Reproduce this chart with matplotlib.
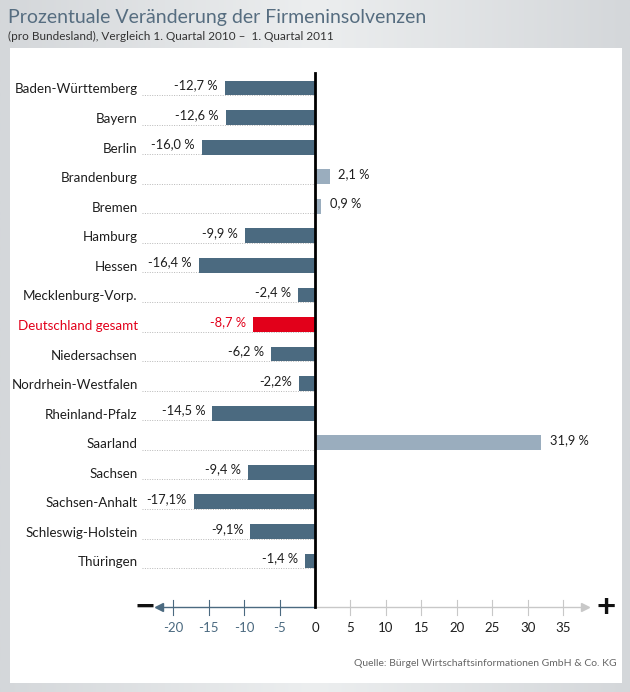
import numpy as np
import matplotlib.pyplot as plt
from matplotlib.patches import Rectangle

plt.rcParams['font.family'] = ['Lato', 'DejaVu Sans']

laender = ['Baden-Württemberg', 'Bayern', 'Berlin', 'Brandenburg', 'Bremen',
           'Hamburg', 'Hessen', 'Mecklenburg-Vorp.', 'Deutschland gesamt',
           'Niedersachsen', 'Nordrhein-Westfalen', 'Rheinland-Pfalz',
           'Saarland', 'Sachsen', 'Sachsen-Anhalt', 'Schleswig-Holstein',
           'Thüringen']
werte = [-12.7, -12.6, -16.0, 2.1, 0.9, -9.9, -16.4, -2.4, -8.7,
         -6.2, -2.2, -14.5, 31.9, -9.4, -17.1, -9.1, -1.4]
wert_labels = ['-12,7 %', '-12,6 %', '-16,0 %', '2,1 %', '0,9 %', '-9,9 %',
               '-16,4 %', '-2,4 %', '-8,7 %', '-6,2 %', '-2,2%', '-14,5 %',
               '31,9 %', '-9,4 %', '-17,1%', '-9,1%', '-1,4 %']
ticks = [-20, -15, -10, -5, 0, 5, 10, 15, 20, 25, 30, 35]

NEG = '#4b6a80'
POS = '#9aadbe'
RED = '#e2001a'
TITLE = '#566d80'

fig = plt.figure(figsize=(6.3, 6.92), dpi=100)

# background gradient + white panel
bg = fig.add_axes([0, 0, 1, 1])
grad = np.linspace(0, 1, 256).reshape(1, -1)
bg.imshow(grad, cmap=plt.matplotlib.colors.LinearSegmentedColormap.from_list(
    'g', ['#d4d7da', '#eceeef', '#d4d7da']), aspect='auto', extent=[0, 1, 0, 1])
bg.add_patch(Rectangle((10 / 630, 1 - 683 / 692), 612 / 630, 635 / 692,
                       facecolor='white', edgecolor='none'))
bg.set_xlim(0, 1)
bg.set_ylim(0, 1)
bg.axis('off')

fig.text(8 / 630, 1 - 17 / 692, 'Prozentuale Veränderung der Firmeninsolvenzen',
         fontsize=14, color=TITLE, va='center', ha='left')
fig.text(8 / 630, 1 - 36 / 692, '(pro Bundesland), Vergleich 1. Quartal 2010 –  1. Quartal 2011',
         fontsize=8.5, color='#333333', va='center', ha='left')
fig.text(617 / 630, 1 - 663 / 692, 'Quelle: Bürgel Wirtschaftsinformationen GmbH & Co. KG',
         fontsize=7.5, color='#666666', va='center', ha='right')

ax = fig.add_axes([10 / 630, 1 - 650 / 692, 610 / 630, 580 / 692])
ax.set_xlim(-43, 43)
ax.set_ylim(19.01, -0.609)
ax.patch.set_alpha(0)
for s in ax.spines.values():
    s.set_visible(False)

y = np.arange(len(laender))
farben = []
for name, w in zip(laender, werte):
    if name == 'Deutschland gesamt':
        farben.append(RED)
    elif w < 0:
        farben.append(NEG)
    else:
        farben.append(POS)

ax.barh(y, werte, height=0.5, color=farben, zorder=3)

for i, (name, w, lab) in enumerate(zip(laender, werte, wert_labels)):
    is_de = name == 'Deutschland gesamt'
    txtcol = RED if is_de else '#1e1e1e'
    ax.text(-25.0, i + 0.05, name, ha='right', va='center', fontsize=9.6,
            color=txtcol)
    ax.plot([-24.4, 0], [i + 0.24, i + 0.24], color='#b8b8b8', lw=0.7,
            ls=(0, (1, 1.5)), zorder=1)
    if w < 0:
        ax.annotate(lab, (w, i), xytext=(-5, 2), textcoords='offset points',
                    ha='right', va='center', fontsize=9.3, color=txtcol)
    else:
        ax.annotate(lab, (w, i), xytext=(6, 2), textcoords='offset points',
                    ha='left', va='center', fontsize=9.3, color=txtcol)

# zero line
axis_y = 17.56
ax.plot([0, 0], [-0.5, axis_y], color='black', lw=2, zorder=4)

# bottom axis, two coloured halves with arrow heads
ax.plot([-21.5, 0], [axis_y, axis_y], color=NEG, lw=1, zorder=2)
ax.plot([0, 37.5], [axis_y, axis_y], color='#c8c8c8', lw=1, zorder=2)
ax.plot([-22], [axis_y], marker='<', color=NEG, markersize=6, zorder=2)
ax.plot([38], [axis_y], marker='>', color='#c8c8c8', markersize=6, zorder=2)
ax.text(-23.9, axis_y, '−', ha='center', va='center', fontsize=26,
        fontweight='bold', color='#111111')
ax.text(41.0, axis_y, '+', ha='center', va='center', fontsize=24,
        fontweight='bold', color='#111111')

for t in ticks:
    col = NEG if t < 0 else '#c8c8c8'
    if t == 0:
        continue
    ax.plot([t, t], [axis_y - 0.25, axis_y + 0.25], color=col, lw=0.8, zorder=2)
    ax.text(t, axis_y + 0.7, str(t), ha='center', va='center', fontsize=9.5,
            color=NEG if t < 0 else '#1e1e1e')
ax.text(0, axis_y + 0.7, '0', ha='center', va='center', fontsize=9.5,
        color='#1e1e1e')

ax.set_xticks([])
ax.set_yticks([])

fig.savefig('out.png', dpi=100)
